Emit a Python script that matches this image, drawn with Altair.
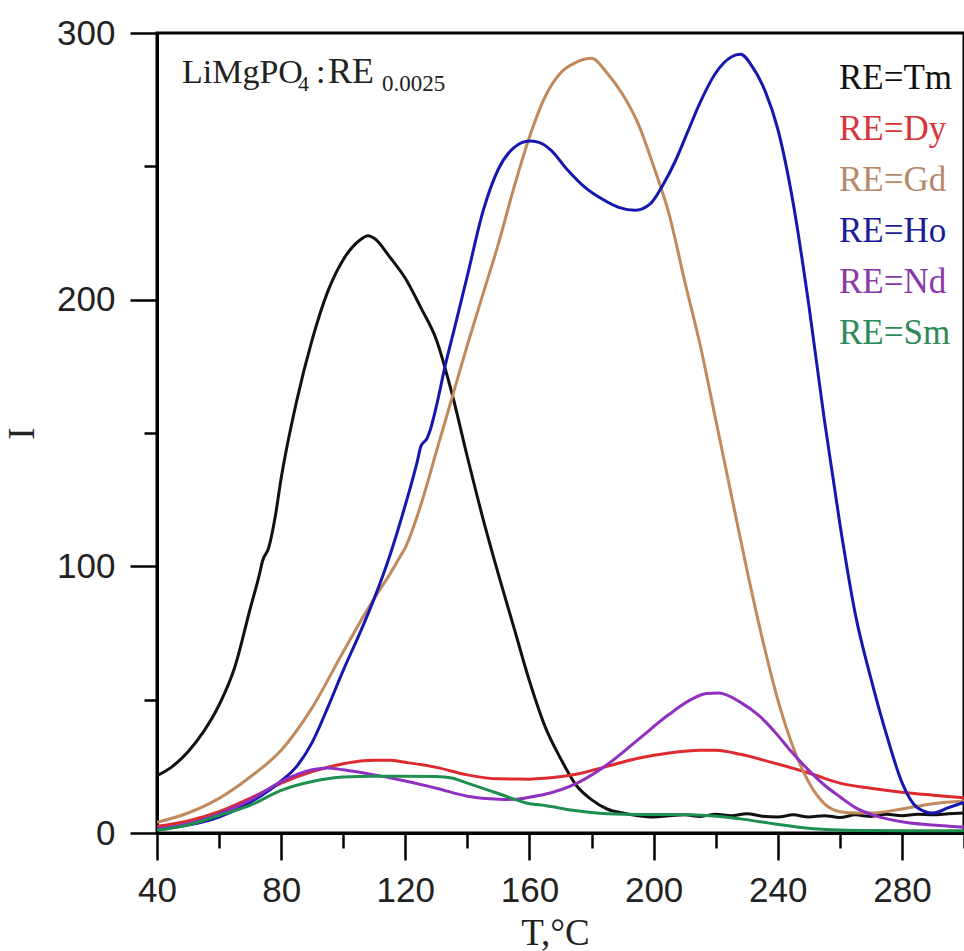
import altair as alt
import pandas as pd

series = ["RE=Tm", "RE=Dy", "RE=Gd", "RE=Ho", "RE=Nd", "RE=Sm"]
colors = ["#111111", "#dc2a2e", "#c08a5c", "#1616b0", "#9030c0", "#1f8f4e"]
label_colors = ["#111111", "#d8343a", "#b58a6a", "#1c1c9a", "#8a3aa8", "#2e8a5a"]

tm_T = [40, 45, 50, 55, 60, 65, 70, 73, 74, 76, 78, 80, 85, 90, 95, 100, 105, 108, 110, 115, 120, 125,
        130, 135, 140, 145, 150, 155, 160, 165, 170, 175, 180, 185, 190, 195, 200, 205, 210, 215, 220,
        225, 230, 235, 240, 245, 250, 255, 260, 265, 270, 275, 280, 285, 290, 295, 300]
tm_I = [21.5, 25, 30.5, 38, 48, 62, 84, 97, 102, 107, 118, 133, 162, 185, 203, 215, 222, 224, 223, 216,
        208, 197, 185, 165, 141, 118, 97, 77, 57, 40, 28, 18, 12.5, 9, 7.5, 6.5, 6, 6.5, 6.8, 6.2, 7,
        6.5, 7.2, 6.3, 6, 6.8, 6, 6.5, 5.8, 6.8, 6.2, 7, 6.5, 7, 6.8, 7.2, 7.5]

dy_T = [40, 50, 60, 70, 80, 90, 100, 110, 115, 120, 130, 140, 150, 160, 165, 175, 185, 195, 205, 215,
        220, 228, 238, 250, 260, 270, 280, 290, 300]
dy_I = [2.5, 4.5, 8, 13, 18.7, 23, 26, 27.3, 27.3, 26.5, 24.6, 21.8, 20.3, 20.2, 20.5, 22, 25, 28, 30,
        31, 31, 29.5, 26.5, 22.5, 18.7, 16.8, 15.3, 14.2, 13.2]

gd_T = [40, 50, 60, 70, 80, 90, 100, 110, 115, 118, 120, 125, 130, 135, 140, 145, 150, 155, 160, 165,
        170, 175, 180, 185, 190, 195, 200, 205, 210, 215, 220, 225, 230, 235, 240, 245, 250, 255, 260,
        265, 270, 280, 290, 300]
gd_I = [4, 7.5, 13, 21, 31, 47, 68, 88, 97, 103, 107, 123, 143, 163, 183, 202, 221, 242, 261, 276, 285,
        289, 290.5, 285, 277, 266, 250, 232, 207, 183, 155, 127, 99, 73, 50, 32, 19, 11, 8, 7.5, 7.5, 9,
        11, 12]

ho_T = [40, 50, 60, 70, 80, 85, 90, 95, 100, 105, 110, 115, 120, 124, 125, 127, 128, 130, 133, 136, 140,
        145, 150, 155, 160, 163, 167, 172, 178, 183, 189, 194, 199, 203, 207, 211, 215, 220, 225, 228,
        232, 236, 240, 245, 250, 255, 260, 265, 270, 275, 280, 285, 290, 295, 300]
ho_I = [1.5, 3, 6, 11.5, 19.5, 25, 34, 47, 61, 74, 88, 104, 123, 140, 145, 148, 151, 160, 176, 190, 209,
        233, 249, 257, 259.5, 259, 256, 249, 242, 238, 234.5, 233.5, 236, 243, 252, 263, 274, 285, 291,
        292, 287, 278, 264, 236, 198, 155, 116, 82, 58, 37, 19, 9.5, 7.5, 9.5, 11.5]

nd_T = [40, 50, 60, 70, 80, 90, 95, 100, 110, 120, 130, 140, 150, 155, 160, 165, 175, 185, 195, 205,
        212, 217, 221, 228, 234, 239, 244, 250, 255, 260, 265, 271, 281, 292, 300]
nd_I = [1.5, 3.5, 7.2, 12.3, 19.3, 23.7, 24.4, 23.7, 21.8, 19.5, 16.8, 13.8, 12.7, 12.6, 13.4, 14.5,
        18.5, 25.6, 35, 44.5, 50, 52.3, 52.5, 49, 44, 38, 31, 23.5, 18, 13.6, 9.5, 6.6, 4, 2.8, 2.2]

sm_T = [40, 50, 60, 70, 80, 90, 100, 110, 120, 130, 135, 140, 150, 160, 165, 174, 185, 196, 207, 217,
        228, 239, 249, 260, 270, 300]
sm_I = [1, 3, 6.6, 10.4, 16, 19.3, 21, 21.3, 21.3, 21.2, 20.6, 18.7, 14.8, 11, 10.3, 8.5, 7.2, 6.9,
        6.9, 6.6, 5.3, 3.4, 1.9, 1.1, 0.9, 0.8]

frames = []
for name, ts, vals in [("RE=Tm", tm_T, tm_I), ("RE=Dy", dy_T, dy_I), ("RE=Gd", gd_T, gd_I),
                       ("RE=Ho", ho_T, ho_I), ("RE=Nd", nd_T, nd_I), ("RE=Sm", sm_T, sm_I)]:
    frames.append(pd.DataFrame({"T": ts, "I": vals, "series": name}))
df = pd.concat(frames, ignore_index=True)
legend_df = pd.DataFrame({"label": series, "col": label_colors})

SERIF = "Liberation Serif"
SANS = "Liberation Sans"

x_axis = alt.Axis(
    values=list(range(40, 301, 20)),
    tickSize={"condition": {"test": "datum.value % 40 === 0", "value": 27}, "value": 15},
    labelExpr="datum.value % 40 === 0 ? datum.label : ''",
    labelFont=SANS, labelFontSize=35, labelColor="#222222", labelPadding=13,
    labelOverlap=False, labelFlush=False, labelBound=False,
    title="T,°C", titleFont=SERIF, titleFontSize=37, titleFontWeight="normal", titleColor="#222222",
    titleX=398, titleY=111, titleBaseline="alphabetic", titleAlign="center",
    domainColor="black", domainWidth=3, tickColor="black", tickWidth=2.5, grid=False,
)
y_axis = alt.Axis(
    values=list(range(0, 301, 50)),
    tickSize={"condition": {"test": "datum.value % 100 === 0", "value": 27}, "value": 13},
    labelExpr="datum.value % 100 === 0 ? datum.label : ''",
    labelFont=SANS, labelFontSize=35, labelColor="#222222", labelPadding=15,
    labelOverlap=False, labelFlush=False, labelBound=False,
    title="I", titleFont=SERIF, titleFontSize=37, titleFontWeight="normal", titleColor="#222222",
    titleX=-135, titleY=400, titleAngle=270, titleAlign="center", titleBaseline="middle",
    domainColor="black", domainWidth=3, tickColor="black", tickWidth=2.5, grid=False,
)

lines = alt.Chart(df).mark_line(strokeWidth=3, interpolate="monotone", clip=True).encode(
    x=alt.X("T:Q", scale=alt.Scale(domain=[40, 300], nice=False, zero=False), axis=x_axis),
    y=alt.Y("I:Q", scale=alt.Scale(domain=[0, 300], nice=False), axis=y_axis),
    color=alt.Color("series:N", scale=alt.Scale(domain=series, range=colors), legend=None),
    order="T:Q",
)

legend_text = alt.Chart(legend_df).mark_text(
    align="left", baseline="middle", font=SERIF, fontSize=35
).encode(
    x=alt.value(682),
    y=alt.Y("label:N", sort=series,
            scale=alt.Scale(type="point", range=[45, 300], padding=0), axis=None),
    text="label:N",
    color=alt.Color("col:N", scale=None),
)


def ann(txt, x, y, size):
    return alt.Chart(pd.DataFrame({"t": [txt]})).mark_text(
        align="left", baseline="alphabetic", font=SERIF, fontSize=size, color="#222222"
    ).encode(x=alt.value(x), y=alt.value(y), text="t:N")


annot = (ann("LiMgPO", 25, 50, 34) + ann("4", 141, 58, 22) + ann(":", 159, 50, 34)
         + ann("RE", 171, 50, 36) + ann("0.0025", 225, 58, 23))

chart = alt.layer(lines, legend_text, annot).resolve_scale(
    y="independent", color="independent"
).properties(
    width=807, height=800,
    padding={"left": 157, "top": 33, "right": 0, "bottom": 118},
    autosize="none",
).configure_view(
    stroke="black", strokeWidth=3
)

chart.save("out.html", embed_options={"renderer": "svg", "actions": False})
